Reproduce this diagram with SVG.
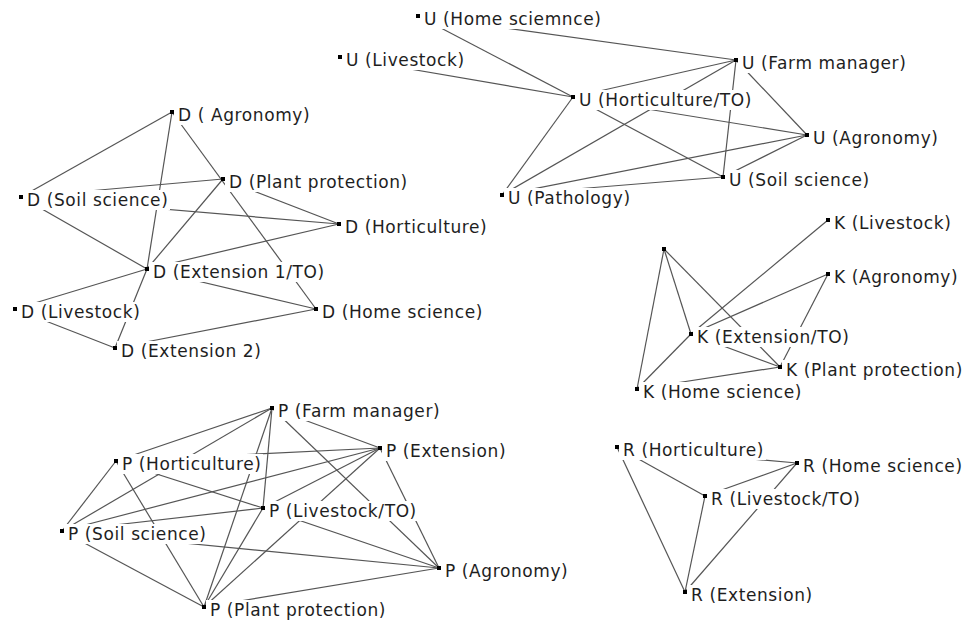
<svg xmlns="http://www.w3.org/2000/svg" width="966" height="623" viewBox="0 0 966 623">
<style>
.e{stroke:#555;stroke-width:1.2;fill:none}
.bg{fill:#fff}
.dot{fill:#000}
.lbl{font-family:"DejaVu Sans",Verdana,sans-serif;font-size:17px;letter-spacing:0.6px;fill:#1e1e1e}
</style>
<rect width="966" height="623" fill="#fff"/>
<g id="connectors">
<!-- D cluster -->
<line class="e" x1="172" y1="112" x2="21" y2="197"/>
<line class="e" x1="172" y1="112" x2="147" y2="269"/>
<line class="e" x1="172" y1="112" x2="316" y2="309"/>
<line class="e" x1="223" y1="179" x2="147" y2="269"/>
<line class="e" x1="223" y1="179" x2="339" y2="224"/>
<line class="e" x1="21" y1="197" x2="223" y2="179"/>
<line class="e" x1="21" y1="197" x2="339" y2="224"/>
<line class="e" x1="21" y1="197" x2="147" y2="269"/>
<line class="e" x1="339" y1="224" x2="147" y2="269"/>
<line class="e" x1="147" y1="269" x2="15" y2="309"/>
<line class="e" x1="147" y1="269" x2="115" y2="348"/>
<line class="e" x1="147" y1="269" x2="316" y2="309"/>
<line class="e" x1="15" y1="309" x2="115" y2="348"/>
<line class="e" x1="115" y1="348" x2="316" y2="309"/>
<!-- U cluster -->
<line class="e" x1="418" y1="16" x2="736" y2="60"/>
<line class="e" x1="418" y1="16" x2="573" y2="97"/>
<line class="e" x1="340" y1="57" x2="573" y2="97"/>
<line class="e" x1="736" y1="60" x2="573" y2="97"/>
<line class="e" x1="736" y1="60" x2="502" y2="195"/>
<line class="e" x1="736" y1="60" x2="723" y2="177"/>
<line class="e" x1="736" y1="60" x2="807" y2="135"/>
<line class="e" x1="573" y1="97" x2="807" y2="135"/>
<line class="e" x1="573" y1="97" x2="723" y2="177"/>
<line class="e" x1="573" y1="97" x2="502" y2="195"/>
<line class="e" x1="502" y1="195" x2="807" y2="135"/>
<line class="e" x1="502" y1="195" x2="723" y2="177"/>
<line class="e" x1="807" y1="135" x2="723" y2="177"/>
<!-- K cluster -->
<line class="e" x1="664" y1="249" x2="637" y2="389"/>
<line class="e" x1="664" y1="249" x2="691" y2="334"/>
<line class="e" x1="664" y1="249" x2="780" y2="367"/>
<line class="e" x1="828" y1="220" x2="691" y2="334"/>
<line class="e" x1="828" y1="274" x2="691" y2="334"/>
<line class="e" x1="828" y1="274" x2="780" y2="367"/>
<line class="e" x1="637" y1="389" x2="691" y2="334"/>
<line class="e" x1="691" y1="334" x2="780" y2="367"/>
<line class="e" x1="637" y1="389" x2="780" y2="367"/>
<!-- P cluster -->
<line class="e" x1="272" y1="408" x2="116" y2="461"/>
<line class="e" x1="272" y1="408" x2="62" y2="531"/>
<line class="e" x1="272" y1="408" x2="204" y2="607"/>
<line class="e" x1="272" y1="408" x2="263" y2="508"/>
<line class="e" x1="272" y1="408" x2="380" y2="448"/>
<line class="e" x1="272" y1="408" x2="439" y2="568"/>
<line class="e" x1="380" y1="448" x2="116" y2="461"/>
<line class="e" x1="380" y1="448" x2="62" y2="531"/>
<line class="e" x1="380" y1="448" x2="263" y2="508"/>
<line class="e" x1="380" y1="448" x2="204" y2="607"/>
<line class="e" x1="380" y1="448" x2="439" y2="568"/>
<line class="e" x1="116" y1="461" x2="62" y2="531"/>
<line class="e" x1="116" y1="461" x2="263" y2="508"/>
<line class="e" x1="116" y1="461" x2="204" y2="607"/>
<line class="e" x1="62" y1="531" x2="263" y2="508"/>
<line class="e" x1="62" y1="531" x2="204" y2="607"/>
<line class="e" x1="62" y1="531" x2="439" y2="568"/>
<line class="e" x1="263" y1="508" x2="439" y2="568"/>
<line class="e" x1="263" y1="508" x2="204" y2="607"/>
<line class="e" x1="439" y1="568" x2="204" y2="607"/>
<!-- R cluster -->
<line class="e" x1="617" y1="447" x2="797" y2="463"/>
<line class="e" x1="617" y1="447" x2="705" y2="496"/>
<line class="e" x1="617" y1="447" x2="685" y2="592"/>
<line class="e" x1="705" y1="496" x2="797" y2="463"/>
<line class="e" x1="705" y1="496" x2="685" y2="592"/>
<line class="e" x1="685" y1="592" x2="797" y2="463"/>
</g>
<!-- D nodes -->
<g id="d-agronomy"><rect class="bg" x="174" y="105" width="138" height="20"/><rect class="dot" x="170" y="110" width="4" height="4"/><text class="lbl" x="178" y="121">D ( Agronomy)</text></g>
<g id="d-plant-protection"><rect class="bg" x="225" y="172" width="184" height="20"/><rect class="dot" x="221" y="177" width="4" height="4"/><text class="lbl" x="229" y="188">D (Plant protection)</text></g>
<g id="d-soil-science"><rect class="bg" x="23" y="190" width="147" height="20"/><rect class="dot" x="19" y="195" width="4" height="4"/><text class="lbl" x="27" y="206">D (Soil science)</text></g>
<g id="d-horticulture"><rect class="bg" x="341" y="217" width="148" height="20"/><rect class="dot" x="337" y="222" width="4" height="4"/><text class="lbl" x="345" y="233">D (Horticulture)</text></g>
<g id="d-extension-1"><rect class="bg" x="149" y="262" width="177" height="20"/><rect class="dot" x="145" y="267" width="4" height="4"/><text class="lbl" x="153" y="278">D (Extension 1/TO)</text></g>
<g id="d-livestock"><rect class="bg" x="17" y="302" width="124" height="20"/><rect class="dot" x="13" y="307" width="4" height="4"/><text class="lbl" x="21" y="318">D (Livestock)</text></g>
<g id="d-home-science"><rect class="bg" x="318" y="302" width="166" height="20"/><rect class="dot" x="314" y="307" width="4" height="4"/><text class="lbl" x="322" y="318">D (Home science)</text></g>
<g id="d-extension-2"><rect class="bg" x="117" y="341" width="145" height="20"/><rect class="dot" x="113" y="346" width="4" height="4"/><text class="lbl" x="121" y="357">D (Extension 2)</text></g>
<!-- U nodes -->
<g id="u-home-science"><rect class="bg" x="420" y="9" width="184" height="20"/><rect class="dot" x="416" y="14" width="4" height="4"/><text class="lbl" x="424" y="25">U (Home sciemnce)</text></g>
<g id="u-livestock"><rect class="bg" x="342" y="50" width="123" height="20"/><rect class="dot" x="338" y="55" width="4" height="4"/><text class="lbl" x="346" y="66">U (Livestock)</text></g>
<g id="u-farm-manager"><rect class="bg" x="738" y="53" width="172" height="20"/><rect class="dot" x="734" y="58" width="4" height="4"/><text class="lbl" x="742" y="69">U (Farm manager)</text></g>
<g id="u-horticulture"><rect class="bg" x="575" y="90" width="179" height="20"/><rect class="dot" x="571" y="95" width="4" height="4"/><text class="lbl" x="579" y="106">U (Horticulture/TO)</text></g>
<g id="u-agronomy"><rect class="bg" x="809" y="128" width="130" height="20"/><rect class="dot" x="805" y="133" width="4" height="4"/><text class="lbl" x="813" y="144">U (Agronomy)</text></g>
<g id="u-soil-science"><rect class="bg" x="725" y="170" width="146" height="20"/><rect class="dot" x="721" y="175" width="4" height="4"/><text class="lbl" x="729" y="186">U (Soil science)</text></g>
<g id="u-pathology"><rect class="bg" x="504" y="188" width="128" height="20"/><rect class="dot" x="500" y="193" width="4" height="4"/><text class="lbl" x="508" y="204">U (Pathology)</text></g>
<!-- K nodes -->
<g id="k-unlabeled"><rect class="dot" x="662" y="247" width="4" height="4"/></g>
<g id="k-livestock"><rect class="bg" x="830" y="213" width="122" height="20"/><rect class="dot" x="826" y="218" width="4" height="4"/><text class="lbl" x="834" y="229">K (Livestock)</text></g>
<g id="k-agronomy"><rect class="bg" x="830" y="267" width="129" height="20"/><rect class="dot" x="826" y="272" width="4" height="4"/><text class="lbl" x="834" y="283">K (Agronomy)</text></g>
<g id="k-extension"><rect class="bg" x="693" y="327" width="158" height="20"/><rect class="dot" x="689" y="332" width="4" height="4"/><text class="lbl" x="697" y="343">K (Extension/TO)</text></g>
<g id="k-plant-protection"><rect class="bg" x="782" y="360" width="184" height="20"/><rect class="dot" x="778" y="365" width="4" height="4"/><text class="lbl" x="786" y="376">K (Plant protection)</text></g>
<g id="k-home-science"><rect class="bg" x="639" y="382" width="164" height="20"/><rect class="dot" x="635" y="387" width="4" height="4"/><text class="lbl" x="643" y="398">K (Home science)</text></g>
<!-- P nodes -->
<g id="p-farm-manager"><rect class="bg" x="274" y="401" width="169" height="20"/><rect class="dot" x="270" y="406" width="4" height="4"/><text class="lbl" x="278" y="417">P (Farm manager)</text></g>
<g id="p-extension"><rect class="bg" x="382" y="441" width="125" height="20"/><rect class="dot" x="378" y="446" width="4" height="4"/><text class="lbl" x="386" y="457">P (Extension)</text></g>
<g id="p-horticulture"><rect class="bg" x="118" y="454" width="145" height="20"/><rect class="dot" x="114" y="459" width="4" height="4"/><text class="lbl" x="122" y="470">P (Horticulture)</text></g>
<g id="p-livestock"><rect class="bg" x="265" y="501" width="153" height="20"/><rect class="dot" x="261" y="506" width="4" height="4"/><text class="lbl" x="269" y="517">P (Livestock/TO)</text></g>
<g id="p-soil-science"><rect class="bg" x="64" y="524" width="144" height="20"/><rect class="dot" x="60" y="529" width="4" height="4"/><text class="lbl" x="68" y="540">P (Soil science)</text></g>
<g id="p-agronomy"><rect class="bg" x="441" y="561" width="128" height="20"/><rect class="dot" x="437" y="566" width="4" height="4"/><text class="lbl" x="445" y="577">P (Agronomy)</text></g>
<g id="p-plant-protection"><rect class="bg" x="206" y="600" width="182" height="20"/><rect class="dot" x="202" y="605" width="4" height="4"/><text class="lbl" x="210" y="616">P (Plant protection)</text></g>
<!-- R nodes -->
<g id="r-horticulture"><rect class="bg" x="619" y="440" width="147" height="20"/><rect class="dot" x="615" y="445" width="4" height="4"/><text class="lbl" x="623" y="456">R (Horticulture)</text></g>
<g id="r-home-science"><rect class="bg" x="799" y="456" width="165" height="20"/><rect class="dot" x="795" y="461" width="4" height="4"/><text class="lbl" x="803" y="472">R (Home science)</text></g>
<g id="r-livestock"><rect class="bg" x="707" y="489" width="155" height="20"/><rect class="dot" x="703" y="494" width="4" height="4"/><text class="lbl" x="711" y="505">R (Livestock/TO)</text></g>
<g id="r-extension"><rect class="bg" x="687" y="585" width="126" height="20"/><rect class="dot" x="683" y="590" width="4" height="4"/><text class="lbl" x="691" y="601">R (Extension)</text></g>
</svg>
